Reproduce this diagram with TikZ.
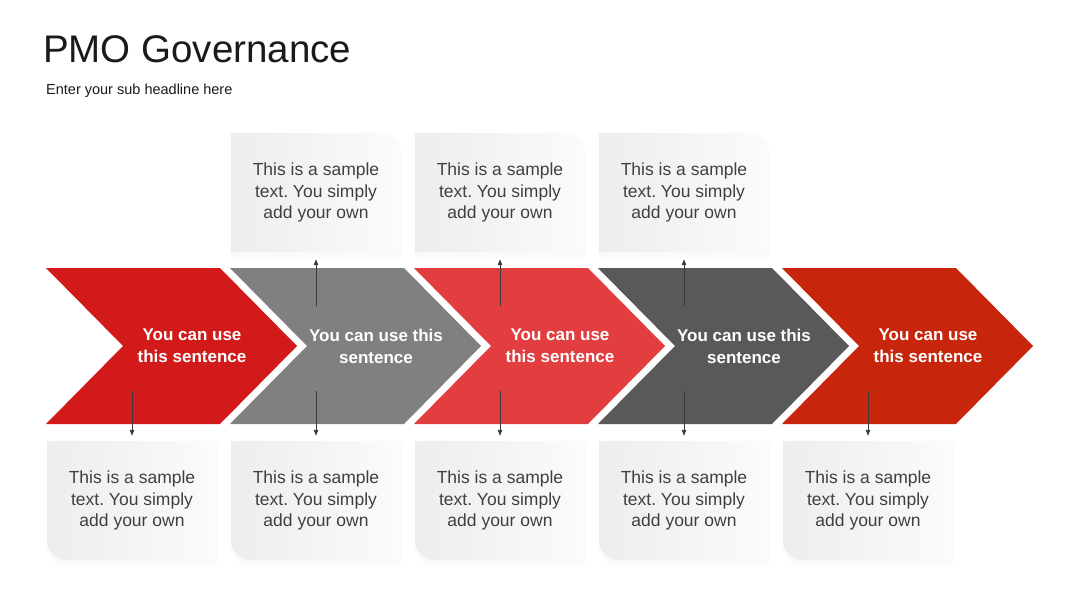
\documentclass[tikz,border=0pt]{standalone}
\usepackage{fontspec}
\setmainfont{Liberation Sans}
\usetikzlibrary{arrows.meta,backgrounds,shadows}
\definecolor{chevA}{HTML}{D21A1A}
\definecolor{chevB}{HTML}{808080}
\definecolor{chevC}{HTML}{E23E40}
\definecolor{chevD}{HTML}{595959}
\definecolor{chevE}{HTML}{C8260C}
\definecolor{boxL}{HTML}{EDEDED}
\definecolor{boxR}{HTML}{FBFBFB}
\definecolor{boxtext}{HTML}{404040}
\definecolor{headtext}{HTML}{1A1A1A}
\definecolor{arrowgray}{HTML}{3A3A3A}
\newcommand{\sampletxt}{This is a sample\\text. You simply\\add your own}
\frenchspacing
\begin{document}
\begin{tikzpicture}[x=1pt,y=-1pt,
    chevtxt/.style={text=white, align=center, font=\bfseries\fontsize{17}{22}\selectfont, inner sep=0pt},
    txtbox/.style={text=boxtext, align=center, font=\fontsize{17.5}{21.5}\selectfont, minimum width=170pt, minimum height=119pt, inner sep=0pt},
    boxshade/.style={left color=boxL, right color=boxR, drop shadow={opacity=0.04, shadow xshift=0pt, shadow yshift=-5pt}},
    conn/.style={draw=arrowgray, line width=0.8pt, -{Triangle[length=6pt,width=4.5pt]}}]
  \useasboundingbox (0,0) rectangle (1080,608);
  % heading
  \node[anchor=base west, inner sep=0pt, text=headtext, font=\fontsize{38.5}{44}\selectfont] (title) at (43,62) {PMO Governance};
  \node[anchor=base west, inner sep=0pt, text=headtext, font=\fontsize{14.5}{17}\selectfont] (subtitle) at (46,94) {Enter your sub headline here};
  % chevrons with their labels
  \foreach \col/\txt [count=\i from 0, evaluate=\i as \xa using 46+184*\i] in
      {chevA/{You can use\\this sentence}, chevB/{You can use this\\sentence},
       chevC/{You can use\\this sentence}, chevD/{You can use this\\sentence},
       chevE/{You can use\\this sentence}}{
    \fill[\col] (\xa,268) -- (\xa+174,268) -- (\xa+251,346) -- (\xa+174,424) -- (\xa,424) -- (\xa+77,346) -- cycle;
    \node[chevtxt] (chev\i) at (\xa+146,346) {\txt};
    \coordinate (dn\i) at (\xa+86,391);
    % bottom text boxes
    \node[txtbox] (bot\i) at (\xa+86,500.5) {\sampletxt};
    \begin{scope}[on background layer]
      \shade[boxshade] (bot\i.west) [rounded corners=20pt] -- (bot\i.south west) -- (bot\i.south) [sharp corners]
        -- (bot\i.south east) -- (bot\i.north east) -- (bot\i.north west) -- cycle;
    \end{scope}
    \draw[conn, shorten >=5pt] (dn\i) -- (bot\i.north);
  }
  % top text boxes
  \foreach \i [evaluate=\i as \xa using 46+184*\i] in {1,2,3}{
    \coordinate (up\i) at (\xa+86,306);
    \node[txtbox] (top\i) at (\xa+86,192.5) {\sampletxt};
    \begin{scope}[on background layer]
      \shade[boxshade] (top\i.north) [rounded corners=20pt] -- (top\i.north east) -- (top\i.east) [sharp corners]
        -- (top\i.south east) -- (top\i.south west) -- (top\i.north west) -- cycle;
    \end{scope}
    \draw[conn, shorten >=7pt] (up\i) -- (top\i.south);
  }
\end{tikzpicture}
\end{document}
